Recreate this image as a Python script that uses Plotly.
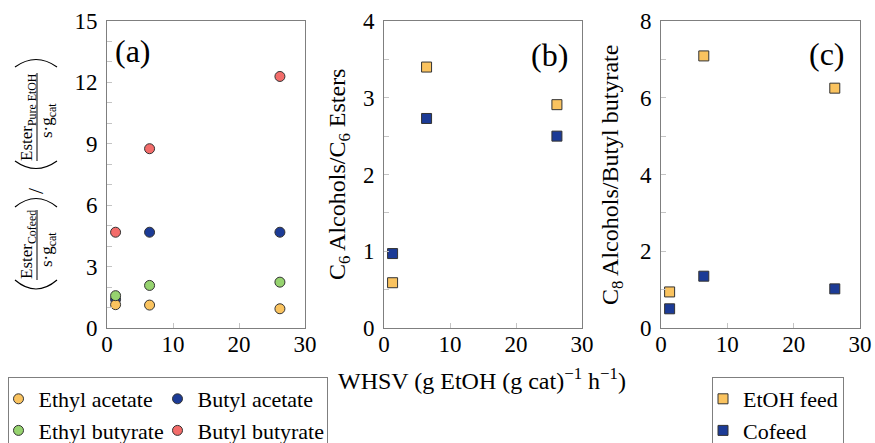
import plotly.graph_objects as go

# ---------------- data ----------------
whsv = [1.3, 6.45, 26.2]

series_a_names = ["Ethyl acetate", "Butyl acetate", "Ethyl butyrate", "Butyl butyrate"]
ethyl_acetate = [1.14, 1.12, 0.94]
butyl_acetate = [1.40, 4.68, 4.68]
ethyl_butyrate = [1.58, 2.08, 2.24]
butyl_butyrate = [4.68, 8.76, 12.29]

c6_etoh_feed = [0.59, 3.40, 2.91]
c6_cofeed = [0.97, 2.73, 2.50]
c8_etoh_feed = [0.94, 7.09, 6.25]
c8_cofeed = [0.50, 1.35, 1.02]

x_ticks = [0, 10, 20, 30]

# ---------------- layout helpers ----------------
W, H = 875, 443
ML = 8
PW = W - ML


def px(x):
    return (x - ML) / PW


def py(y):
    return (H - y) / H


FONT = "Liberation Serif"
ORANGE = "#FAC35F"
BLUE = "#1C3B96"
GREEN = "#96D36F"
RED = "#F36C6A"
EDGE = "#333333"
AXC = "#7f7f7f"
TKC = "#c4c4c4"

fig = go.Figure()

# panel (a) – circles (draw blue first so others overlap like reference)
circ = [
    ("Butyl acetate", butyl_acetate, BLUE, 2),
    ("Ethyl acetate", ethyl_acetate, ORANGE, 1),
    ("Ethyl butyrate", ethyl_butyrate, GREEN, 3),
    ("Butyl butyrate", butyl_butyrate, RED, 4),
]
for name, vals, col, rank in circ:
    fig.add_trace(go.Scatter(
        x=whsv, y=vals, mode="markers", name=name, legend="legend", legendrank=rank,
        marker=dict(symbol="circle", size=10, color=col, line=dict(color=EDGE, width=1)),
        xaxis="x", yaxis="y", cliponaxis=False))

# panel (b)
fig.add_trace(go.Scatter(x=whsv, y=c6_etoh_feed, mode="markers", name="EtOH feed", showlegend=False,
                         marker=dict(symbol="square", size=10, color=ORANGE, line=dict(color=EDGE, width=1)),
                         xaxis="x2", yaxis="y2"))
fig.add_trace(go.Scatter(x=whsv, y=c6_cofeed, mode="markers", name="Cofeed", showlegend=False,
                         marker=dict(symbol="square", size=10, color=BLUE, line=dict(color=EDGE, width=1)),
                         xaxis="x2", yaxis="y2"))
# panel (c)
fig.add_trace(go.Scatter(x=whsv, y=c8_etoh_feed, mode="markers", name="EtOH feed", legend="legend2",
                         marker=dict(symbol="square", size=10, color=ORANGE, line=dict(color=EDGE, width=1)),
                         xaxis="x3", yaxis="y3"))
fig.add_trace(go.Scatter(x=whsv, y=c8_cofeed, mode="markers", name="Cofeed", legend="legend2",
                         marker=dict(symbol="square", size=10, color=BLUE, line=dict(color=EDGE, width=1)),
                         xaxis="x3", yaxis="y3"))

common = dict(showgrid=False, zeroline=False, showline=True, linecolor=AXC, linewidth=1, mirror=True,
              ticks="inside", ticklen=5, tickcolor=TKC, tickwidth=1,
              tickfont=dict(family=FONT, size=23, color="black"))

ydom = [py(328), py(21)]
panels = [(107, 305), (384, 582), (661, 860)]
yspecs = [(15, 3, 1), (4, 1, 0.5), (8, 2, 1)]

layout = dict(
    width=W, height=H,
    margin=dict(l=ML, r=0, t=0, b=0, autoexpand=False),
    paper_bgcolor="white", plot_bgcolor="white",
    font=dict(family=FONT, color="black"),
)
for i, ((x0, x1), (ymax, dmaj, dmin)) in enumerate(zip(panels, yspecs)):
    sx = "" if i == 0 else str(i + 1)
    layout["xaxis" + sx] = dict(common, domain=[px(x0), px(x1)], range=[0, 30], tickmode="array",
                                tickvals=x_ticks, anchor="y" + sx, ticklabelstandoff=-5)
    layout["yaxis" + sx] = dict(common, domain=ydom, range=[0, ymax], tick0=0, dtick=dmaj,
                                anchor="x" + sx, ticklabelstandoff=4,
                                minor=dict(dtick=dmin, tick0=0, ticks="inside", ticklen=5,
                                           tickcolor=TKC, showgrid=False))

layout["legend"] = dict(x=px(7.5), xanchor="left", y=py(377), yanchor="top", orientation="h",
                        entrywidth=124, entrywidthmode="pixels", indentation=-10,
                        bordercolor=AXC, borderwidth=1,
                        bgcolor="white", font=dict(family=FONT, size=22, color="black"),
                        traceorder="normal")
layout["legend2"] = dict(x=px(712), xanchor="left", y=py(377), yanchor="top", orientation="v",
                         indentation=-10, bordercolor=AXC, borderwidth=1, bgcolor="white",
                         font=dict(family=FONT, size=22, color="black"))

fig.update_layout(**layout)

ann = []


def A(text, x, y, size, angle=0, **kw):
    ann.append(dict(text=text, x=px(x), y=py(y), xref="paper", yref="paper", showarrow=False,
                    textangle=angle, xanchor="center", yanchor="middle",
                    font=dict(family=FONT, size=size, color="black"), **kw))


# panel labels
A("(a)", 133, 51, 32)
A("(b)", 549, 55, 32)
A("(c)", 827, 54, 32)

# axis titles
A("WHSV (g EtOH (g cat)<sup>−1</sup> h<sup>−1</sup>)", 482, 379, 24)
A("C<sub>6</sub> Alcohols/C<sub>6</sub> Esters", 339, 175, 24, angle=-90)
A("C<sub>8</sub> Alcohols/Butyl butyrate", 612, 175, 24, angle=-90)

# panel (a) fraction-style y title
A("Ester<sub>Pure EtOH</sub>", 28, 117, 17, angle=-90)
A("s·g<sub>cat</sub>", 48, 121, 17, angle=-90)
A("/", 35, 191, 22, angle=-90)
A("Ester<sub>Cofeed</sub>", 28, 245, 17, angle=-90)
A("s·g<sub>cat</sub>", 48, 250, 17, angle=-90)

shapes = []


def line(x0, y0, x1, y1):
    shapes.append(dict(type="line", xref="paper", yref="paper", x0=px(x0), y0=py(y0), x1=px(x1), y1=py(y1),
                       line=dict(color="black", width=1)))


def arc(xa, xb, yend, yctrl):
    xm = (xa + xb) / 2
    path = f"M {px(xa)},{py(yend)} Q {px(xm)},{py(yctrl)} {px(xb)},{py(yend)}"
    shapes.append(dict(type="path", xref="paper", yref="paper", path=path,
                       line=dict(color="black", width=1.2)))


line(37, 73, 37, 161)
line(37, 210, 37, 280)
arc(15, 57, 67, 52)
arc(15, 57, 161, 176)
arc(15, 57, 207, 190)
arc(15, 57, 280, 298)

fig.update_layout(annotations=ann, shapes=shapes)

fig.write_html("out.html")
